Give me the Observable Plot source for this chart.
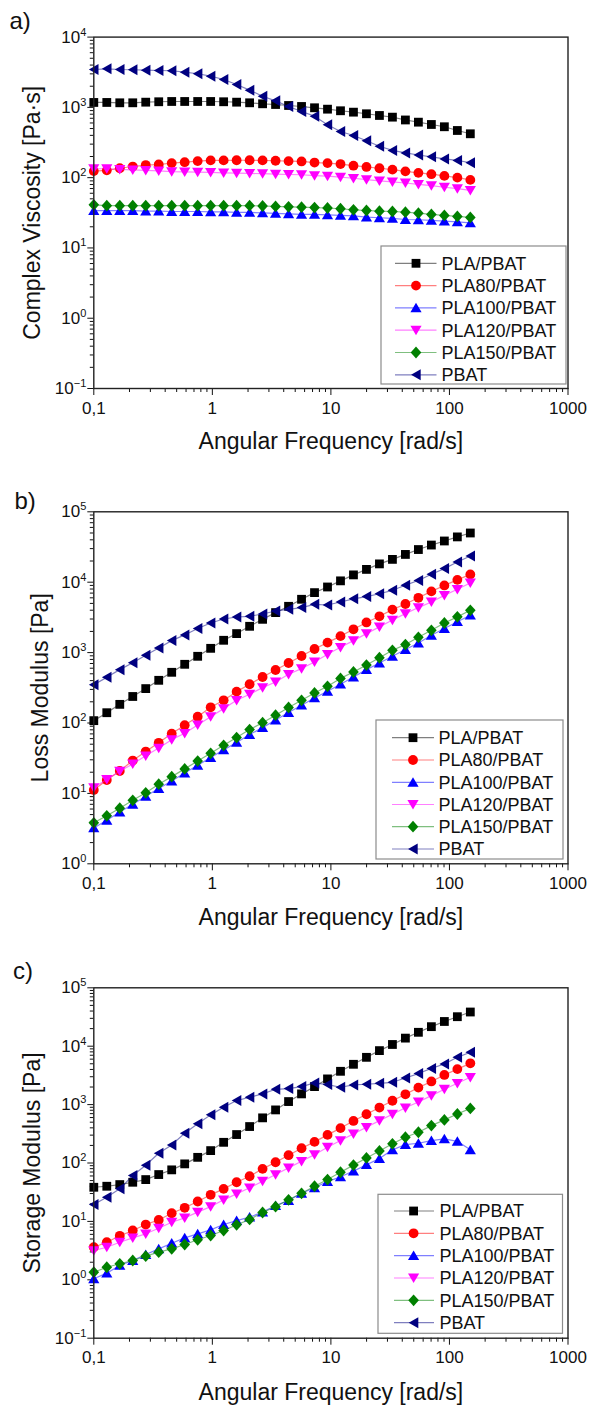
<!DOCTYPE html>
<html><head><meta charset="utf-8">
<script src="https://cdn.jsdelivr.net/npm/d3@7"></script>
<script src="https://cdn.jsdelivr.net/npm/@observablehq/plot@0.6"></script>
<style>
html,body{margin:0;padding:0;background:#fff;}
#chart{width:594px;}
#chart svg{display:block;}
</style></head><body><div id="chart"></div>
<script>
// ---------- data ----------
const freq = [0.1, 0.1287, 0.1656, 0.2131, 0.2742, 0.3529, 0.4541, 0.5844, 0.752, 0.9676, 1.245, 1.602, 2.062, 2.653, 3.414, 4.394, 5.654, 7.275, 9.363, 12.05, 15.5, 19.95, 25.67, 33.04, 42.51, 54.71, 70.4, 90.6, 116.6, 150];
const seriesNames = ["PLA/PBAT", "PLA80/PBAT", "PLA100/PBAT", "PLA120/PBAT", "PLA150/PBAT", "PBAT"];
const seriesColors = ["#000000", "#ff0000", "#0000ff", "#ff00ff", "#008000", "#000080"];

// a) complex viscosity [Pa·s]
const viscPLA    = [1175, 1175, 1162, 1162, 1186, 1202, 1213, 1213, 1213, 1213, 1202, 1186, 1162, 1125, 1099, 1064, 1030, 987, 943, 895, 855, 811, 767, 726, 662, 616, 571, 530, 469, 421];
const viscPLA80  = [124, 127, 136, 144, 151, 154, 161, 166, 172, 176, 176, 177, 177, 176, 174, 172, 170, 164, 161, 156, 148, 142, 136, 130, 123, 117, 112, 106, 100, 93];
const viscPLA100 = [34, 34, 34, 34, 33.5, 33.5, 33, 33, 33, 32.5, 32.5, 32, 32, 31.5, 31, 30.5, 30, 30, 29.5, 29, 28.6, 27.4, 26.9, 26.3, 25.4, 25.2, 24.6, 24.1, 23.5, 22.8];
const viscPLA120 = [134, 134, 131, 129, 127, 125, 122, 121, 120, 119, 117, 116, 115, 114, 112, 111, 110, 107, 105, 102, 98, 94, 90, 87, 84, 80, 77, 73, 70, 66];
const viscPLA150 = [41, 40, 40, 40, 40, 40, 40, 40, 40, 40, 40, 40, 40, 39.5, 39, 38.5, 38, 37.5, 37, 36.1, 34.9, 34.1, 33.4, 33, 32.3, 31.2, 30, 29, 28.1, 27.2];
const viscPBAT   = [3460, 3540, 3460, 3430, 3380, 3350, 3320, 3170, 3010, 2780, 2490, 2120, 1760, 1440, 1240, 1030, 875, 750, 565, 454, 398, 335, 280, 244, 225, 210, 198, 185, 176, 163];

// b) loss modulus [Pa]
const lossPLA    = [108, 140, 184, 238, 308, 404, 525, 682, 886, 1150, 1496, 1862, 2364, 2970, 3700, 4545, 5720, 7110, 8550, 10450, 12700, 15200, 18200, 21100, 24800, 29100, 33700, 38500, 44000, 50000];
const lossPLA80  = [11.2, 15.5, 20.8, 29.3, 39.3, 52.3, 70.7, 93, 123, 167, 210, 279, 355, 450, 566, 712, 895, 1125, 1387, 1714, 2140, 2680, 3280, 4080, 4900, 6000, 7400, 9000, 10800, 12900];
const lossPLA100 = [3.23, 4.15, 5.44, 7.0, 9.1, 11.7, 15.0, 19.5, 25.1, 32.3, 41.5, 53, 68.5, 86, 110, 141, 179, 227, 282, 356, 450, 573, 712, 886, 1104, 1368, 1763, 2193, 2750, 3400];
const lossPLA120 = [12.1, 15.8, 20.7, 26.2, 34.2, 44, 58, 71.4, 93.8, 123, 160, 210, 256, 318, 382, 492, 593, 735, 946, 1190, 1480, 1860, 2320, 2900, 3580, 4360, 5240, 6500, 7930, 9740];
const lossPLA150 = [3.82, 4.8, 6.15, 7.98, 10.2, 13.5, 17.3, 22.3, 28.8, 37.1, 48.2, 62.1, 80.6, 101, 129, 166, 210, 267, 332, 430, 530, 665, 845, 1079, 1300, 1650, 2075, 2633, 3220, 3990];
const lossPBAT   = [350, 445, 573, 716, 916, 1160, 1480, 1783, 2204, 2633, 3000, 3206, 3280, 3535, 3900, 4120, 4355, 4850, 4745, 5230, 5800, 6250, 6850, 7670, 9040, 10600, 13000, 15600, 19400, 23600];

// c) storage modulus [Pa]
const storPLA    = [38.4, 40, 42.7, 46.8, 52, 63.4, 76.3, 96.6, 125, 163, 226, 307, 421, 593, 811, 1127, 1525, 2033, 2754, 3717, 4900, 6450, 8400, 10700, 13750, 17300, 21600, 26500, 32000, 38500];
const storPLA80  = [3.61, 4.4, 5.66, 6.98, 8.84, 10.6, 13.8, 17.1, 21.9, 28.5, 36.1, 46.8, 59.3, 79.4, 103, 136, 179, 230, 303, 396, 525, 684, 889, 1165, 1500, 1955, 2490, 3220, 4050, 5090];
const storPLA100 = [1.04, 1.3, 1.76, 2.14, 2.71, 3.39, 4.23, 5.23, 6.13, 7.17, 8.84, 10.3, 11.8, 14.4, 18.7, 22.8, 30.3, 37.6, 48.1, 58, 72.5, 93.5, 119, 168, 207, 218, 242, 259, 235, 168];
const storPLA120 = [3.17, 3.61, 4.4, 5.23, 6.13, 7.64, 9.68, 11.5, 14.4, 17.9, 23.4, 29.6, 37.6, 48.7, 63.4, 82.6, 107, 139, 186, 242, 315, 409, 532, 684, 882, 1110, 1426, 1830, 2316, 2933];
const storPLA150 = [1.35, 1.64, 1.88, 2.14, 2.54, 2.97, 3.39, 4.02, 4.84, 5.73, 6.98, 8.73, 10.8, 14.2, 17.9, 23.4, 30.3, 40, 52, 69.5, 92, 122, 161, 213, 276, 336, 437, 547, 690, 860];
const storPBAT   = [19.4, 25.9, 36.1, 61, 91.4, 147, 204, 323, 468, 667, 899, 1172, 1335, 1525, 1828, 1879, 2033, 2353, 2200, 1980, 2170, 2230, 2315, 2410, 2850, 3400, 4170, 4960, 6450, 7860];

// tick labels
const xMajor = [0.1, 1, 10, 100, 1000];
const xTickLabels = ["0,1", "1", "10", "100", "1000"];
const yMajorA = [0.1, 1, 10, 100, 1000, 10000];
const yExpA = ["\u22121", "0", "1", "2", "3", "4"];
const yMajorB = [1, 10, 100, 1000, 10000, 100000];
const yExpB = ["0", "1", "2", "3", "4", "5"];
const yMajorC = [0.1, 1, 10, 100, 1000, 10000, 100000];
const yExpC = ["\u22121", "0", "1", "2", "3", "4", "5"];
const xTitle = "Angular Frequency [rad/s]";

// ---------- helpers ----------
const FONT = "'Liberation Sans', Arial, Helvetica, sans-serif";
function minors(lo, hi) { // minor log ticks between decades lo..hi (exponents)
  const out = [];
  for (let e = lo; e < hi; e++) for (let m = 2; m <= 9; m++) out.push(+(m * Math.pow(10, e)).toPrecision(6));
  return out;
}
const poly = pts => ({draw(c) { c.moveTo(pts[0][0], pts[0][1]); for (let i = 1; i < pts.length; i++) c.lineTo(pts[i][0], pts[i][1]); c.closePath(); }});
const symbols = [
  poly([[-4.4, -4.4], [4.4, -4.4], [4.4, 4.4], [-4.4, 4.4]]),                // square
  {draw(c) { c.moveTo(4.9, 0); c.arc(0, 0, 4.9, 0, 2 * Math.PI); c.closePath(); }}, // circle
  poly([[0, -5.1], [5.6, 4.4], [-5.6, 4.4]]),                                // triangle up
  poly([[0, 5.1], [5.6, -4.4], [-5.6, -4.4]]),                               // triangle down
  poly([[0, -5.9], [5.3, 0], [0, 5.9], [-5.3, 0]]),                          // diamond
  poly([[-4.9, 0], [4.7, -5.5], [4.7, 5.5]])                                 // triangle left
];

function drawLegend(svg, L) {
  const g = d3.select(svg).append("g").attr("font-family", FONT).attr("font-size", 18).attr("text-anchor", "start");
  g.append("rect").attr("x", L.x0).attr("y", L.y0).attr("width", L.x1 - L.x0).attr("height", L.y1 - L.y0)
    .attr("fill", "white").attr("stroke", "#8c8c8c").attr("stroke-width", 1.2);
  seriesNames.forEach((name, i) => {
    const y = L.rows[i];
    g.append("line").attr("x1", L.lx0).attr("x2", L.lx1).attr("y1", y).attr("y2", y)
      .attr("stroke", seriesColors[i]).attr("stroke-opacity", 0.5).attr("stroke-width", 1.2);
    const p = d3.path(); symbols[i].draw(p, 0);
    g.append("path").attr("d", p.toString()).attr("transform", `translate(${L.mx},${y})`).attr("fill", seriesColors[i]);
    g.append("text").attr("x", L.tx).attr("y", y).attr("dy", "0.35em").attr("text-anchor", "start")
      .attr("fill", "#111").text(name);
  });
}

function superscripts(svg) {
  svg.querySelectorAll('g[aria-label="y-axis tick label"] text').forEach(t => {
    const s = t.textContent;
    if (!s.includes("^")) return;
    const [b, e] = s.split("^");
    t.textContent = b;
    const ts = document.createElementNS("http://www.w3.org/2000/svg", "tspan");
    ts.setAttribute("dy", "-7");
    ts.setAttribute("font-size", "11");
    ts.textContent = e;
    t.appendChild(ts);
  });
}

function panel(cfg) {
  const seriesMarks = [];
  cfg.series.forEach((vals, i) => {
    const rows = freq.map((f, k) => ({f, v: vals[k]}));
    seriesMarks.push(Plot.line(rows, {x: "f", y: "v", stroke: seriesColors[i], strokeOpacity: 0.5, strokeWidth: 1.2}));
    seriesMarks.push(Plot.dot(rows, {x: "f", y: "v", symbol: symbols[i], r: 5, fill: seriesColors[i], stroke: "none"}));
  });
  const svg = Plot.plot({
    width: 594, height: cfg.height,
    marginTop: cfg.mt, marginBottom: cfg.mb, marginLeft: 93.3, marginRight: 26.5,
    style: {fontFamily: FONT, background: "white", color: "#111", overflow: "visible"},
    x: {type: "log", domain: [0.1, 1000], label: null},
    y: {type: "log", domain: cfg.yDomain, label: null},
    marks: [
      Plot.axisX(minors(-1, 3), {tickSize: 4, tickFormat: () => "", label: null}),
      Plot.axisX(xMajor, {tickSize: 7, tickPadding: 6, fontSize: 17, label: null,
        tickFormat: d => xTickLabels[xMajor.indexOf(d)]}),
      Plot.axisY(cfg.yMinor, {tickSize: 3.5, tickFormat: () => "", label: null}),
      Plot.axisY(cfg.yMajor, {tickSize: 6, tickPadding: 1.5, fontSize: 17, label: null,
        tickFormat: d => "10^" + cfg.yExp[cfg.yMajor.indexOf(d)]}),
      ...seriesMarks,
      Plot.frame({stroke: "#222", strokeWidth: 1.4}),
      Plot.text([cfg.tag], {text: d => d, frameAnchor: "top-left", dx: cfg.tagDx, dy: cfg.tagDy,
        textAnchor: "start", lineAnchor: "middle", fontSize: 24}),
      Plot.text([cfg.yTitle], {text: d => d, frameAnchor: "left", rotate: -90, dx: cfg.ytDx,
        textAnchor: "middle", lineAnchor: "middle", fontSize: 23}),
      Plot.text([xTitle], {text: d => d, frameAnchor: "bottom", dy: cfg.xtDy,
        textAnchor: "middle", lineAnchor: "middle", fontSize: 23})
    ]
  });
  superscripts(svg);
  drawLegend(svg, cfg.legend);
  document.getElementById("chart").appendChild(svg);
}

panel({
  height: 470, mt: 36.6, mb: 82, yDomain: [0.1, 10000],
  yMajor: yMajorA, yExp: yExpA, yMinor: minors(-1, 4),
  series: [viscPLA, viscPLA80, viscPLA100, viscPLA120, viscPLA150, viscPBAT],
  tag: "a)", tagDx: -84.3, tagDy: -16,
  yTitle: "Complex Viscosity [Pa\u00b7s]", ytDx: -61, xtDy: 53,
  legend: {x0: 381, x1: 566, y0: 246, y1: 384, rows: [263.3, 285.6, 307.9, 330.2, 352.5, 374.8],
    lx0: 395, lx1: 436.5, mx: 416, tx: 441.5}
});
panel({
  height: 470, mt: 41.3, mb: 76.7, yDomain: [1, 100000],
  yMajor: yMajorB, yExp: yExpB, yMinor: minors(0, 5),
  series: [lossPLA, lossPLA80, lossPLA100, lossPLA120, lossPLA150, lossPBAT],
  tag: "b)", tagDx: -79.3, tagDy: -10.7,
  yTitle: "Loss Modulus [Pa]", ytDx: -53, xtDy: 53.4,
  legend: {x0: 376, x1: 563, y0: 250, y1: 389, rows: [267.7, 290, 312.3, 334.5, 356.7, 379],
    lx0: 392, lx1: 434, mx: 413, tx: 438.5}
});
panel({
  height: 467, mt: 47.3, mb: 69.3, yDomain: [0.1, 100000],
  yMajor: yMajorC, yExp: yExpC, yMinor: minors(-1, 5),
  series: [storPLA, storPLA80, storPLA100, storPLA120, storPLA150, storPBAT],
  tag: "c)", tagDx: -80.8, tagDy: -16.7,
  yTitle: "Storage Modulus [Pa]", ytDx: -61, xtDy: 54,
  legend: {x0: 378, x1: 562.5, y0: 254.3, y1: 393.3, rows: [271, 293.3, 315.7, 338, 360.3, 382.7],
    lx0: 394, lx1: 434, mx: 413.6, tx: 439.4}
});
</script>
</body></html>
